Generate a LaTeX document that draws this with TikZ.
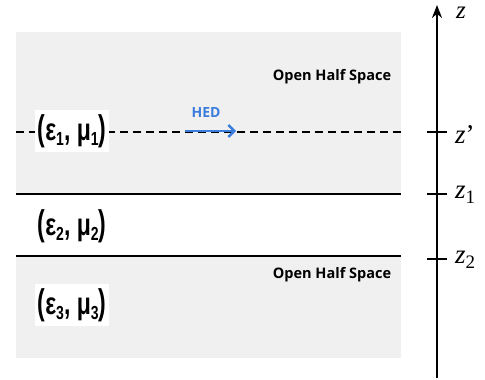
\documentclass[tikz,border=0pt]{standalone}
\usepackage{fontspec}
\setmainfont{Liberation Serif}
\newfontfamily\opensans{Open Sans}
\newfontfamily\lsans{Liberation Sans}
\usetikzlibrary{arrows.meta}
\definecolor{bggray}{HTML}{F0F0F0}
\definecolor{hedblue}{HTML}{3B7DDD}
\newcommand{\sbs}[1]{\raisebox{-0.35ex}{\fontsize{14}{15}\selectfont #1}}
\newcommand{\medlabel}[1]{\scalebox{1}[1.35]{\scalebox{1}[1.15]{(}ε\sbs{#1}, μ\sbs{#1}\scalebox{1}[1.15]{)}}}
\tikzset{
  layer/.style={line width=1.6pt},
  medium/.style={fill=white, inner xsep=3pt, inner ysep=4pt, font=\lsans\bfseries\fontsize{23}{25}\selectfont},
  halfspace/.style={font=\opensans\bfseries\fontsize{14.5}{16}\selectfont},
  zlabel/.style={anchor=base west, font=\fontsize{27}{30}\selectfont, inner sep=0pt},
  tick/.style={line width=1.4pt}
}
\begin{document}
\begin{tikzpicture}[x=1pt,y=-1pt]
\useasboundingbox (0,0) rectangle (485,380);
\fill[bggray] (16,32) rectangle (401,194);
\fill[bggray] (16,256) rectangle (401,358);
% interfaces
\coordinate (d1) at (16,132); \coordinate (d2) at (401,132);
\coordinate (l1a) at (16,194); \coordinate (l1b) at (401,194);
\coordinate (l2a) at (16,256); \coordinate (l2b) at (401,256);
\draw[line width=1.3pt, dash pattern=on 8pt off 5pt] (d1) -- (d2);
\draw[layer] (l1a) -- (l1b);
\draw[layer] (l2a) -- (l2b);
% media labels
\node[medium] (m1) at (72,131) {\medlabel{1}};
\node[medium, fill=none] (m2) at (72,226) {\medlabel{2}};
\node[medium] (m3) at (72,305) {\medlabel{3}};
% half space labels
\node[halfspace] (h1) at (332,77) {Open Half Space};
\node[halfspace] (h2) at (332,275) {Open Half Space};
% HED
\coordinate (hs) at (185,131); \coordinate (he) at (236,131);
\draw[hedblue, line width=2.4pt, -{Straight Barb[length=6pt,width=12pt,line width=2.4pt]}] (hs) -- (he);
\node[text=hedblue, font=\opensans\bfseries\fontsize{14}{15}\selectfont] (hed) at (206,113) {HED};
% axis
\coordinate (zb) at (437,378); \coordinate (zt) at (437,5);
\draw[line width=2.2pt, -{Stealth[length=13pt,width=10pt]}] (zb) -- (zt);
\node[zlabel, font=\itshape\fontsize{25}{28}\selectfont, text height=1.1ex, text depth=0.2ex] (z) at (456,19) {z};
\draw[tick] (427,132) -- (447,132);
\draw[tick] (427,194) -- (447,194);
\draw[tick] (427,259) -- (447,259);
\node[zlabel] (zp) at (455,143) {\textit{z}’};
\node[zlabel] (z1) at (455,198) {\textit{z}\raisebox{-0.45ex}{\fontsize{19}{20}\selectfont 1}};
\node[zlabel] (z2) at (455,263) {\textit{z}\raisebox{-0.45ex}{\fontsize{19}{20}\selectfont 2}};
\end{tikzpicture}
\end{document}
